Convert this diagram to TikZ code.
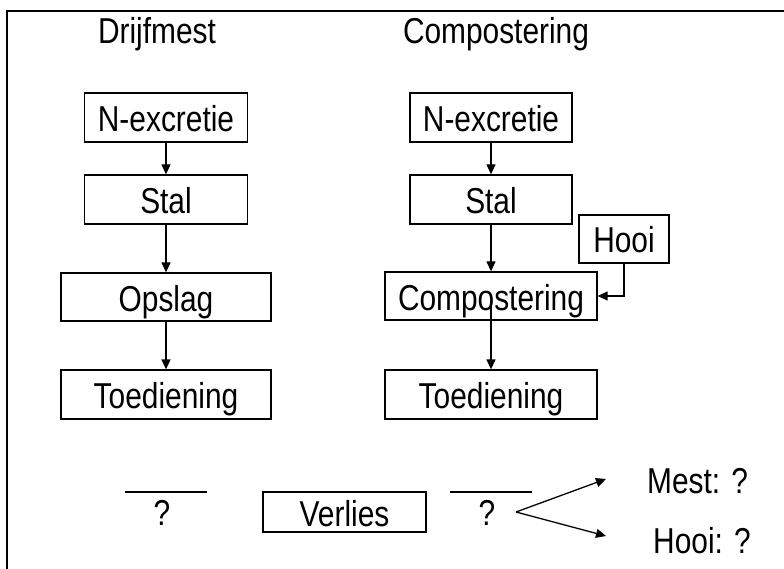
\documentclass[tikz,border=0pt]{standalone}
\usepackage{fontspec}
\setmainfont[FakeStretch=0.83]{Liberation Sans}
\usetikzlibrary{arrows.meta}
\begin{document}
\begin{tikzpicture}[x=1pt,y=-1pt,
  every node/.style={font=\fontsize{36}{42}\selectfont, inner sep=0pt},
  stepbox/.style={draw, line width=1.3pt, text height=28pt, text depth=0pt, minimum height=#1},
  stepbox/.default=48pt,
  arr/.style={line width=1.3pt, -{Triangle[length=10pt,width=9pt]}},
  bar/.style={line width=1.8pt}]
\useasboundingbox (0,0) rectangle (784,569);
% frame
\draw[line width=2pt] (784,11.5) -- (7,11.5) -- (7,569);
% titles
\node[anchor=base] (t1) at (157,44) {Drijfmest};
\node[anchor=base] (t2) at (496,44) {Compostering};
% left column
\node[stepbox=49pt, minimum width=163pt] (nl) at (166,117.5) {N-excretie};
\node[stepbox=49pt, minimum width=163pt] (sl) at (166,199.5) {Stal};
\node[stepbox, minimum width=210pt] (ol) at (166,297) {Opslag};
\node[stepbox=49pt, minimum width=210pt] (tl) at (166,394.5) {Toediening};
\draw[arr] (nl.south) -- (sl.north);
\draw[arr] (sl.south) -- (ol.north);
\draw[arr] (ol.south) -- (tl.north);
% right column
\node[stepbox=49pt, minimum width=162pt] (nr) at (491,117.5) {N-excretie};
\node[stepbox=49pt, minimum width=162pt] (sr) at (491,199.5) {Stal};
\node[stepbox, minimum width=90pt] (hooi) at (624,239) {Hooi};
\node[stepbox, minimum width=212pt] (cr) at (491,296) {Compostering};
\node[stepbox=49pt, minimum width=212pt] (tr) at (491,394.5) {Toediening};
\draw[arr] (nr.south) -- (sr.north);
\draw[arr] (sr.south) -- (cr.north);
\draw[arr] (hooi.south) |- (cr.east);
\draw[arr] ([yshift=-6pt]cr.center) -- (tr.north);
% bottom row
\draw[bar] (125,492) -- (207,492);
\node[anchor=base] (q1) at (162,525) {?};
\node[stepbox=40pt, minimum width=163pt] (verlies) at (344.5,512) {Verlies};
\draw[bar] (450,492) -- (532,492);
\node[anchor=base] (q2) at (487,525) {?};
\coordinate (split) at (516,512);
\coordinate (mtip) at (606,479);
\coordinate (htip) at (606,536);
\draw[arr] (split) -- (mtip);
\draw[arr] (split) -- (htip);
\node[anchor=base west] (mest) at (647,493) {Mest: ?};
\node[anchor=base west] (hooiq) at (653,553) {Hooi: ?};
\end{tikzpicture}
\end{document}
